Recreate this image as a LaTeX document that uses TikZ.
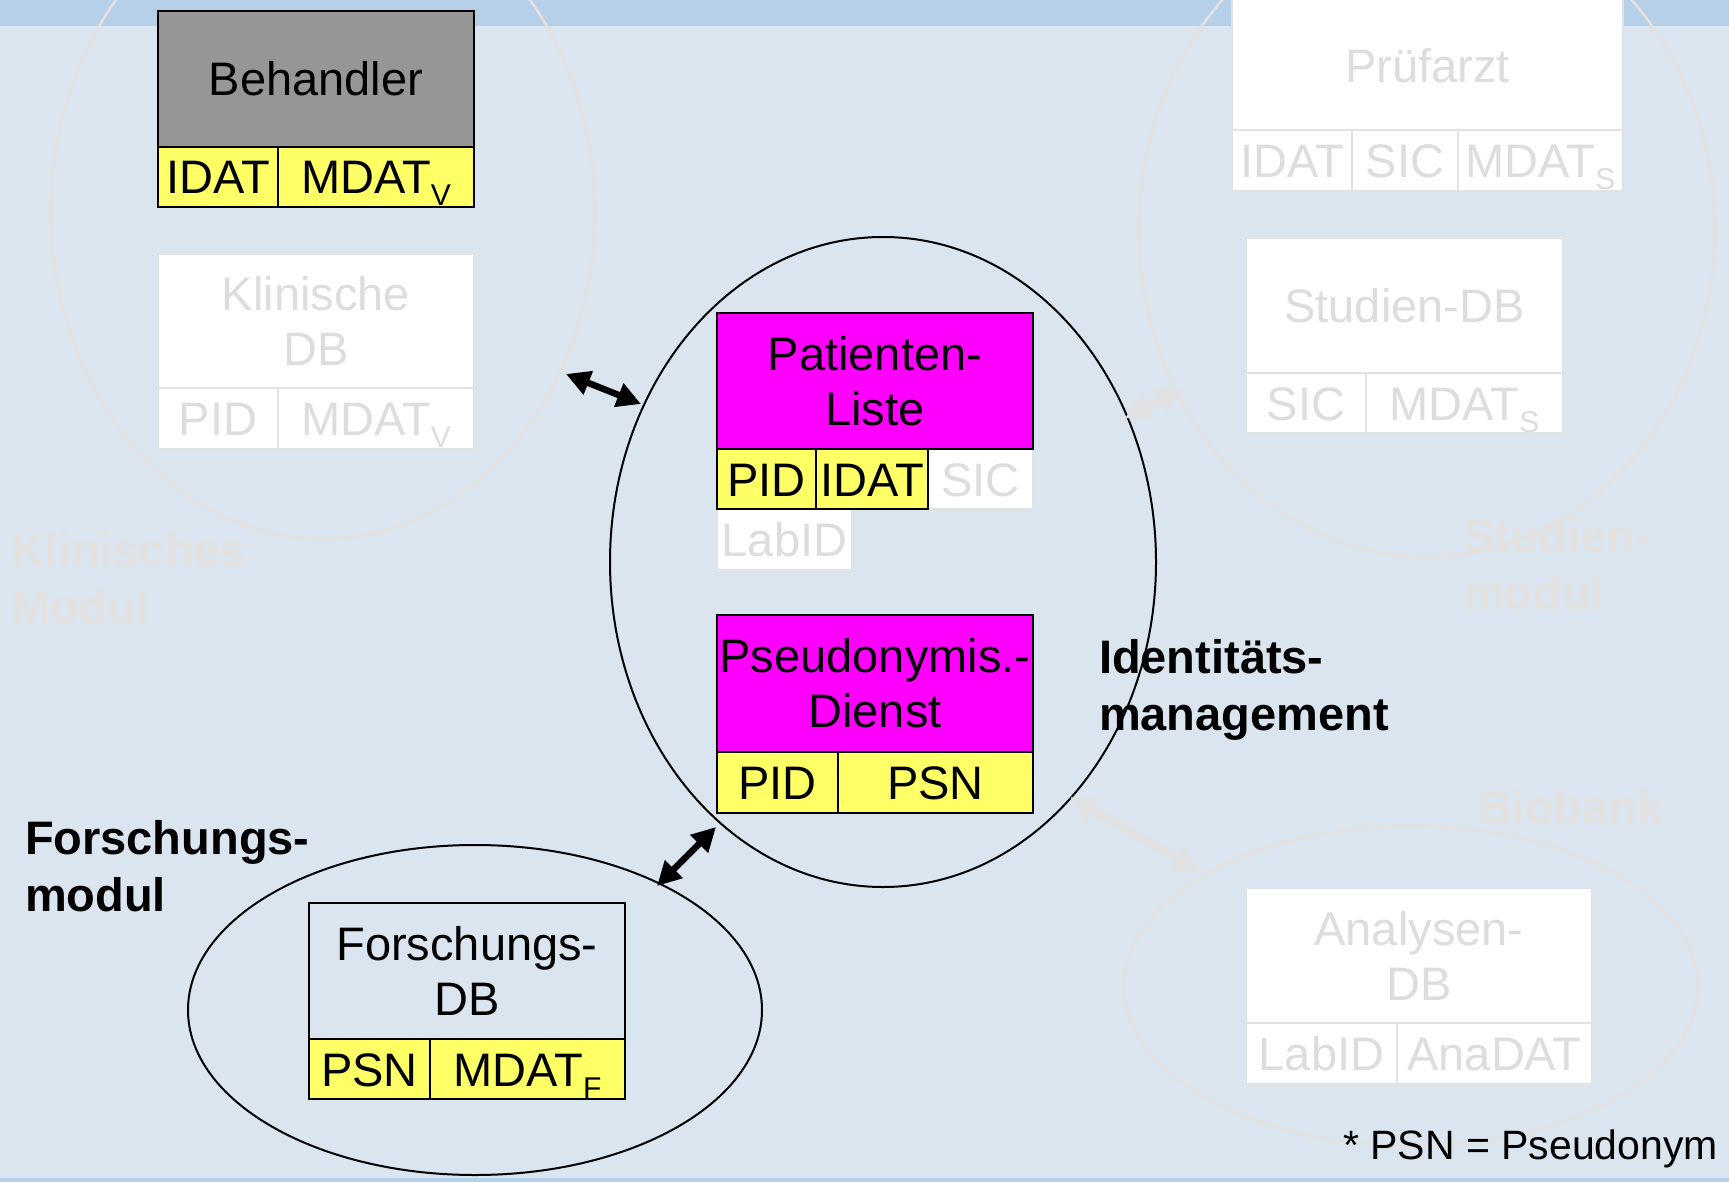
\documentclass[tikz,border=0pt]{standalone}
\usepackage{fontspec}
\setmainfont{Liberation Sans}
\usetikzlibrary{arrows.meta,shapes.geometric}

\definecolor{bgblue}{HTML}{DAE5EF}
\definecolor{bandblue}{HTML}{B6D0E9}
\definecolor{dbgray}{HTML}{969696}
\definecolor{idyellow}{HTML}{FFFF66}
\definecolor{svcmagenta}{HTML}{FF00FF}
\definecolor{fadetext}{HTML}{DDDDDD}
\definecolor{fadeline}{HTML}{E2E2E2}
\definecolor{fadering}{HTML}{E6E1DE}
\definecolor{fadelabel}{HTML}{E4E2E1}

% lowered index letter, e.g. MDAT with subscript V
\newcommand\lowsub[1]{\raisebox{-12pt}{\fontsize{30}{30}\selectfont #1}}

\tikzset{
  frame/.style={rectangle, draw=black, line width=2.5pt, align=center},
  idcell/.style={frame, fill=idyellow, text height=34pt, text depth=0pt},
  ghost/.style={rectangle, draw=fadeline, line width=2pt, fill=white, text=fadetext, align=center},
  ghostcell/.style={ghost, text height=34pt, text depth=0pt},
  ring/.style={ellipse, draw=black, line width=2pt},
  ghostring/.style={ellipse, draw=fadering, line width=2.5pt},
  link/.style={line width=6.5pt, {Triangle[length=24pt,width=24pt]}-{Triangle[length=24pt,width=24pt]}},
  ghostlink/.style={draw=fadeline, line width=8pt, {Triangle[length=26pt,width=26pt]}-{Triangle[length=26pt,width=26pt]}},
  modlabel/.style={font=\bfseries\fontsize{47}{57}\selectfont, align=left, anchor=west},
}

\begin{document}
\begin{tikzpicture}[x=1pt,y=-1pt,
  every node/.style={font=\fontsize{47}{55}\selectfont, inner sep=0pt, outer sep=0pt}]

% slide background
\fill[bgblue] (0,0) rectangle (1729,1182);
\fill[bandblue] (0,0) rectangle (1729,26);
\fill[bandblue] (0,1178) rectangle (1729,1182);
\useasboundingbox (0,0) rectangle (1729,1182);

% module areas
\node[ghostring, minimum width=544pt, minimum height=654pt] (klinring) at (323,212) {};
\node[ghostring, minimum width=576pt, minimum height=654pt] (studring) at (1427,230) {};
\node[ghostring, minimum width=574pt, minimum height=320pt] (bioring) at (1411,986) {};
\node[ring, minimum width=546pt, minimum height=650pt] (idring) at (883,562) {};
\node[ring, minimum width=574pt, minimum height=330pt] (forring) at (475,1010) {};

% Klinisches Modul
\node[frame, fill=dbgray, minimum width=316pt, minimum height=136pt] (beh) at (316,79) {Behandler};
\node[idcell, minimum width=120pt, minimum height=60pt] (behidat) at (218,177) {IDAT};
\node[idcell, minimum width=196pt, minimum height=60pt] (behmdat) at (376,177) {MDAT\lowsub{V}};

\node[ghost, minimum width=316pt, minimum height=134pt] (kdb) at (316,321) {Klinische\\DB};
\node[ghostcell, minimum width=120pt, minimum height=61pt] (kdbpid) at (218,418.5) {PID};
\node[ghostcell, minimum width=196pt, minimum height=61pt] (kdbmdat) at (376,418.5) {MDAT\lowsub{V}};

% Studienmodul
\node[ghost, minimum width=391pt, minimum height=140pt] (pa) at (1427.5,60) {\raisebox{-6pt}[34pt][0pt]{Prüfarzt}};
\node[ghostcell, minimum width=120pt, minimum height=61pt] (paidat) at (1292,160.5) {IDAT};
\node[ghostcell, minimum width=106pt, minimum height=61pt] (pasic) at (1405,160.5) {SIC};
\node[ghostcell, minimum width=165pt, minimum height=61pt] (pamdat) at (1540.5,160.5) {MDAT\lowsub{S}};

\node[ghost, minimum width=317pt, minimum height=135pt] (sdb) at (1404.5,305.5) {Studien-DB};
\node[ghostcell, minimum width=120pt, minimum height=60pt] (sdbsic) at (1306,403) {SIC};
\node[ghostcell, minimum width=197pt, minimum height=60pt] (sdbmdat) at (1464.5,403) {MDAT\lowsub{S}};

% Biobank
\node[ghost, minimum width=346pt, minimum height=135pt] (adb) at (1419,955.5) {Analysen-\\DB};
\node[ghostcell, minimum width=151pt, minimum height=61pt] (adblab) at (1321.5,1053.5) {LabID};
\node[ghostcell, minimum width=195pt, minimum height=61pt] (adbana) at (1494.5,1053.5) {AnaDAT};

% Identitaetsmanagement
\node[ghostcell, minimum width=105pt, minimum height=60pt] (plsic) at (980.5,479) {SIC};
\node[ghostcell, minimum width=135pt, minimum height=61pt] (pllab) at (784.5,539.5) {LabID};
\node[frame, fill=svcmagenta, minimum width=316pt, minimum height=136pt] (pl) at (875,381) {Patienten-\\Liste};
\node[idcell, minimum width=99pt, minimum height=60pt] (plpid) at (766.5,479) {PID};
\node[idcell, minimum width=112pt, minimum height=60pt] (plidat) at (872,479) {IDAT};

\node[frame, fill=svcmagenta, minimum width=316pt, minimum height=137pt] (psd) at (875,683.5) {Pseudonymis.-\\Dienst};
\node[idcell, minimum width=121pt, minimum height=61pt] (psdpid) at (777.5,782.5) {PID};
\node[idcell, minimum width=195pt, minimum height=61pt] (psdpsn) at (935.5,782.5) {PSN};

% Forschungsmodul
\node[frame, fill=bgblue, minimum width=316pt, minimum height=136pt] (fdb) at (467,971) {Forschungs-\\DB};
\node[idcell, minimum width=121pt, minimum height=60pt] (fdbpsn) at (369.5,1069) {PSN};
\node[idcell, minimum width=195pt, minimum height=60pt] (fdbmdat) at (527.5,1069) {MDAT\lowsub{F}};

% module captions
\node[modlabel, text=fadelabel] (klinlbl) at (11,578) {Klinisches\\Modul};
\node[modlabel, text=fadelabel] (studlbl) at (1463,564) {Studien-\\modul};
\node[modlabel, text=fadelabel] (biolbl) at (1478,807) {Biobank};
\node[modlabel] (idlbl) at (1099,690) {Identitäts-\\management};
\node[modlabel] (forlbl) at (25,866) {Forschungs-\\modul};

\node[anchor=west, font=\fontsize{41}{41}\selectfont] (note) at (1343,1149) {* PSN = Pseudonym};

% data flows between modules
\coordinate (klinport) at (566,374);
\coordinate (idport) at (641,404);
\coordinate (forport) at (657,886);
\coordinate (psport) at (716,827);
\coordinate (studport) at (1183,389);
\coordinate (idstud) at (1125,418);
\coordinate (idbio) at (1070,797);
\coordinate (bioport) at (1199,871);

\draw[link] (klinport) -- (idport);
\draw[link] (forport) -- (psport);
\draw[ghostlink] (idstud) -- (studport);
\draw[ghostlink] (idbio) -- (bioport);

\end{tikzpicture}
\end{document}
